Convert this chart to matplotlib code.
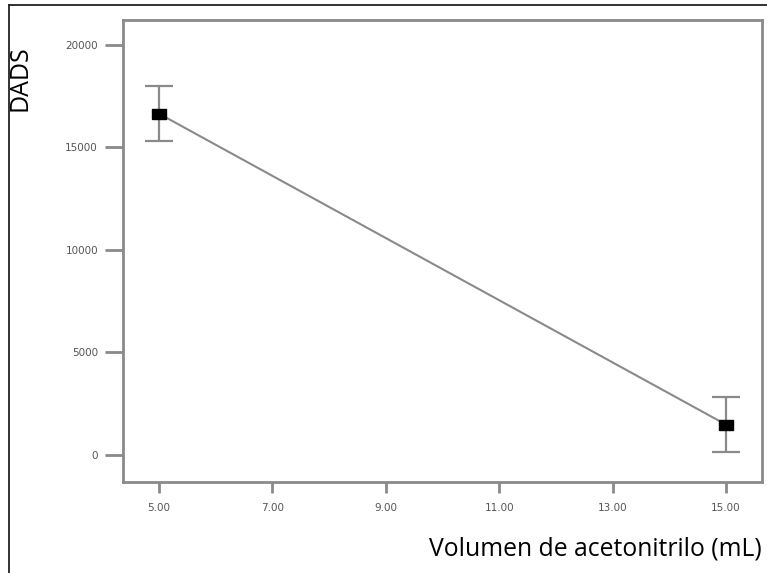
import matplotlib.pyplot as plt
import matplotlib.lines as mlines

volumen = [5.0, 15.0]
dads = [16650, 1480]
err_low = [15300, 150]
err_high = [18000, 2850]

x_ticks = [5, 7, 9, 11, 13, 15]
y_ticks = [0, 5000, 10000, 15000, 20000]

grey = '#8a8a8a'

fig = plt.figure(figsize=(7.67, 5.73), dpi=100)
ax = fig.add_axes([123 / 767, 1 - 482 / 573, (762 - 123) / 767, (482 - 20) / 573])

yerr = [[d - lo for d, lo in zip(dads, err_low)],
        [hi - d for d, hi in zip(dads, err_high)]]
ax.errorbar(volumen, dads, yerr=yerr, fmt='none', ecolor=grey, elinewidth=1.6,
            capsize=10, capthick=1.6, zorder=2)
ax.plot(volumen, dads, color=grey, lw=1.5, zorder=3)
rect = [(-1.4, -1), (1.4, -1), (1.4, 1), (-1.4, 1), (-1.4, -1)]
ax.plot(volumen, dads, linestyle='none', marker=rect, ms=10, color='black', zorder=4)

ax.set_xlim(4.365, 15.635)
ax.set_ylim(-1320, 21220)
ax.set_xticks(x_ticks)
ax.set_xticklabels(['%.2f' % v for v in x_ticks])
ax.set_yticks(y_ticks)
ax.tick_params(axis='both', direction='out', width=2, color=grey,
               labelsize=7.5, labelcolor='#555555')
ax.tick_params(axis='y', length=13, pad=5)
ax.tick_params(axis='x', length=8, pad=7)
for s in ax.spines.values():
    s.set_color(grey)
    s.set_linewidth(2)

fig.text(20 / 767, 1 - 78 / 573, 'DADS', rotation=90, ha='center', va='center',
         fontsize=18, family='Open Sans', color='black')
fig.text(762 / 767, 1 - 549 / 573, 'Volumen de acetonitrilo (mL)', ha='right',
         va='center', fontsize=17.8, family='Open Sans', color='black')

# partial frame (top and left) as in the source
fig.add_artist(mlines.Line2D([8.5 / 767, 8.5 / 767], [0, 1 - 4.5 / 573], color='#222222', lw=1.3))
fig.add_artist(mlines.Line2D([8.5 / 767, 1], [1 - 4.5 / 573, 1 - 4.5 / 573], color='#222222', lw=1.3))

fig.savefig('out.png', dpi=100)
